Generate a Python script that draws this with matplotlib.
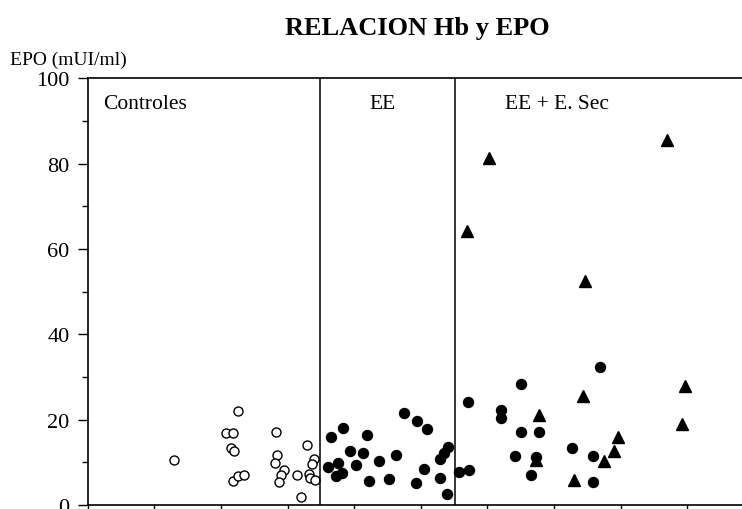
import matplotlib
matplotlib.use('Agg')
import matplotlib.pyplot as plt
from matplotlib.ticker import MultipleLocator

# Controles (open circles)
ctrl_x = [1.30, 2.25, 2.07, 2.18, 2.15, 2.19, 2.18, 2.25, 2.35, 2.82, 2.84, 2.81,
          2.94, 2.90, 2.87, 3.14, 3.20, 3.29, 3.40, 3.37, 3.32, 3.34, 3.41]
ctrl_y = [10.6, 22.0, 16.9, 16.9, 13.3, 12.6, 5.6, 6.8, 7.0, 17.0, 11.7, 9.8,
          8.2, 7.1, 5.3, 7.0, 1.9, 14.0, 10.7, 9.6, 7.3, 6.3, 5.9]

# EE (filled circles)
ee_x = [3.60, 3.65, 3.83, 3.75, 3.72, 3.82, 3.93, 4.02, 4.13, 4.19, 4.22, 4.37,
        4.52, 4.63, 4.74, 4.94, 5.09, 4.92, 5.04, 5.28, 5.39, 5.29, 5.34, 5.40]
ee_y = [8.9, 15.9, 18.0, 9.8, 6.7, 7.5, 12.7, 9.4, 12.3, 16.3, 5.6, 10.4,
        6.2, 11.8, 21.5, 19.6, 17.8, 5.2, 8.5, 6.3, 2.5, 10.7, 12.2, 13.6]

# EE + E. Sec: triangles drawn first, circles on top
tri_x = [5.70, 6.02, 7.47, 8.70, 6.78, 7.43, 7.30, 6.73, 8.97, 8.92, 7.96, 7.90, 7.75]
tri_y = [64.1, 81.2, 52.4, 85.6, 21.1, 25.5, 5.9, 10.6, 27.9, 19.0, 16.0, 12.7, 10.4]
sec_x = [5.58, 5.73, 5.71, 6.20, 6.20, 6.51, 6.51, 6.77, 6.42, 6.73, 6.65, 7.27,
         7.59, 7.59, 7.69]
sec_y = [7.7, 8.2, 24.1, 22.2, 20.4, 28.4, 17.2, 17.2, 11.4, 11.2, 7.0, 13.3,
         11.4, 5.3, 32.4]

dividers = [3.48, 5.52]
groups = ['Controles', 'EE', 'EE + E. Sec']
group_x = [0.86, 4.43, 7.05]

plt.rcParams['font.family'] = ['Liberation Serif', 'DejaVu Serif']

fig = plt.figure(figsize=(7.42, 5.10), dpi=100)
ax = fig.add_axes([0.1182, 0.0078, 0.8818, 0.837])

ax.plot(ctrl_x, ctrl_y, 'o', ms=6.5, mfc='white', mec='black', mew=1.0)
ax.plot(tri_x, tri_y, '^', ms=8, color='black')
ax.plot(ee_x, ee_y, 'o', ms=7.2, color='black')
ax.plot(sec_x, sec_y, 'o', ms=7.2, color='black')

for d in dividers:
    ax.axvline(d, color='black', lw=1.1)

ax.set_xlim(0, 9.82)
ax.set_ylim(0, 100)
ax.yaxis.set_major_locator(MultipleLocator(20))
ax.yaxis.set_minor_locator(MultipleLocator(10))
ax.xaxis.set_major_locator(MultipleLocator(1))
ax.set_xticklabels([])
ax.tick_params(axis='y', which='major', length=7, width=1.0, labelsize=16, pad=6)
ax.tick_params(axis='y', which='minor', length=4, width=1.0)
ax.tick_params(axis='x', which='major', length=7, width=1.0)
ax.spines['right'].set_visible(False)
for s in ['left', 'top', 'bottom']:
    ax.spines[s].set_linewidth(1.2)

for g, gx in zip(groups, group_x):
    ax.text(gx, 94, g, fontsize=15.5, va='center', ha='center')

fig.text(0.013, 0.882, 'EPO (mUI/ml)', fontsize=14, va='center', ha='left')
fig.text(0.562, 0.945, 'RELACION Hb y EPO', fontsize=19, fontweight='bold',
         va='center', ha='center')

fig.savefig('out.png', dpi=100)
